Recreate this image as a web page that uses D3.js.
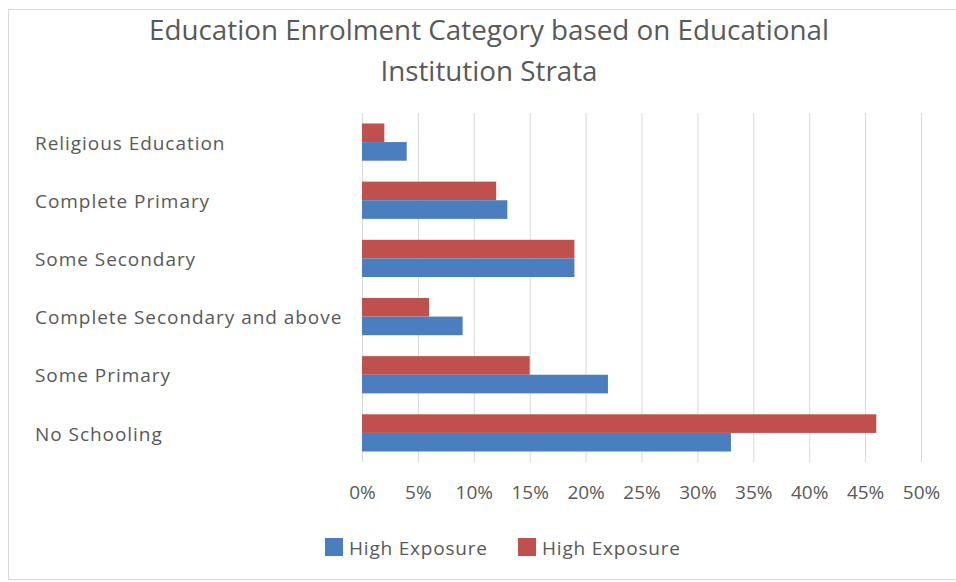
<!DOCTYPE html>
<html>
<head>
<meta charset="utf-8">
<script src="https://cdn.jsdelivr.net/npm/d3@7"></script>
<style>
  html, body { margin: 0; padding: 0; background: #fff; }
  svg { display: block; }
  text { font-family: "Open Sans", "Noto Sans", sans-serif; fill: #595959; }
</style>
</head>
<body>
<svg id="chart" width="956" height="582"></svg>
<script>
// Categories, top to bottom
const categories = [
  "Religious Education",
  "Complete Primary",
  "Some Secondary",
  "Complete Secondary and above",
  "Some Primary",
  "No Schooling"
];
// Series values (percent)
const blueValues = [4, 13, 19, 9, 22, 33];
const redValues  = [2, 12, 19, 6, 15, 46];
const seriesNames = ["High Exposure", "High Exposure"];
const tickValues = [0, 5, 10, 15, 20, 25, 30, 35, 40, 45, 50];
const titleLines = ["Education Enrolment Category based on Educational", "Institution Strata"];

const BLUE = "#4a7ebf";
const RED = "#c0504d";

const svg = d3.select("#chart");

// outer chart frame
svg.append("rect")
  .attr("x", 8.5).attr("y", 9.5)
  .attr("width", 960).attr("height", 570)
  .attr("fill", "#fff")
  .attr("stroke", "#d9d9d9").attr("stroke-width", 1);

// title
svg.append("g").selectAll("text")
  .data(titleLines).join("text")
  .attr("x", 489)
  .attr("y", (d, i) => 40 + i * 41)
  .attr("text-anchor", "middle")
  .attr("font-size", 27.8)
  .text(d => d);

const x = d3.scaleLinear().domain([0, 50]).range([362, 921]);
const y = d3.scaleBand().domain(categories).range([113, 462])
  .paddingInner(0.36).paddingOuter(0.18);
const sub = d3.scaleBand().domain(["red", "blue"]).range([0, y.bandwidth()]);

// vertical gridlines
svg.append("g").selectAll("line")
  .data(tickValues).join("line")
  .attr("x1", d => x(d) + 0.5).attr("x2", d => x(d) + 0.5)
  .attr("y1", 113).attr("y2", 462)
  .attr("stroke", "#d9d9d9").attr("stroke-width", 1);

// x tick labels
const xAxis = d3.axisBottom(x).tickValues(tickValues).tickFormat(d => d + "%").tickSize(0).tickPadding(0);
const gx = svg.append("g").attr("transform", "translate(0,492)").call(xAxis);
gx.select(".domain").remove();
gx.selectAll("text")
  .attr("font-size", 19)
  .attr("font-family", null)
  .attr("fill", "#595959")
  .attr("dy", "0.35em");

// category labels
svg.append("g").selectAll("text")
  .data(categories).join("text")
  .attr("x", 35)
  .attr("y", d => y(d) + y.bandwidth() / 2 + 1)
  .attr("dy", "0.35em")
  .attr("font-size", 19)
  .attr("letter-spacing", 0.95)
  .text(d => d);

// bars
const rows = categories.map((c, i) => ({ c, red: redValues[i], blue: blueValues[i] }));
const groups = svg.append("g").selectAll("g")
  .data(rows).join("g")
  .attr("transform", d => `translate(0,${y(d.c)})`);

groups.append("rect")
  .attr("x", x(0))
  .attr("y", sub("red"))
  .attr("width", d => x(d.red) - x(0))
  .attr("height", sub.bandwidth())
  .attr("fill", RED);

groups.append("rect")
  .attr("x", x(0))
  .attr("y", sub("blue"))
  .attr("width", d => x(d.blue) - x(0))
  .attr("height", sub.bandwidth())
  .attr("fill", BLUE);

// legend
const legend = [
  { name: seriesNames[0], color: BLUE, x: 325 },
  { name: seriesNames[1], color: RED, x: 518 }
];
const lg = svg.append("g").selectAll("g")
  .data(legend).join("g")
  .attr("transform", d => `translate(${d.x},538)`);
lg.append("rect").attr("width", 18).attr("height", 18).attr("fill", d => d.color);
lg.append("text")
  .attr("x", 24).attr("y", 10).attr("dy", "0.35em")
  .attr("font-size", 19)
  .attr("letter-spacing", 0.8)
  .text(d => d.name);
</script>
</body>
</html>
